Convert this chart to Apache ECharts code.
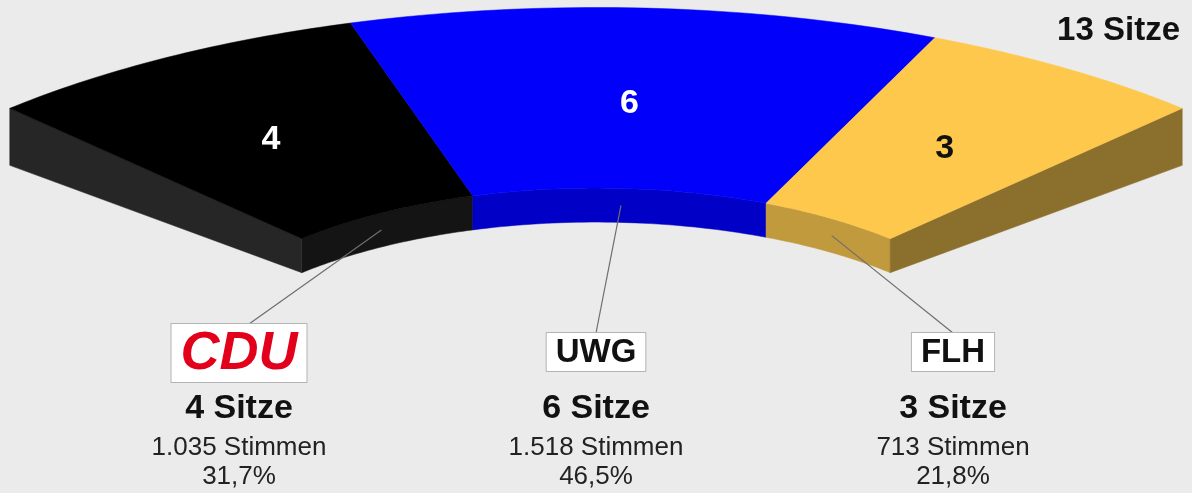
<!DOCTYPE html>
<html>
<head>
<meta charset="utf-8">
<script src="https://cdn.jsdelivr.net/npm/echarts@6/dist/echarts.min.js"></script>
<style>
html,body{margin:0;padding:0;background:#ebebeb;}
#main{width:1192px;height:493px;}
</style>
</head>
<body>
<div id="main"></div>
<script>
// data
var parties = ['CDU', 'UWG', 'FLH'];
var seats = [4, 6, 3];
var votes = ['1.035', '1.518', '713'];
var shares = ['31,7%', '46,5%', '21,8%'];
var totalLabel = '13 Sitze';

// styles
var topColors = ['#000000', '#0000fb', '#fdc84c'];
var wallColors = ['#141414', '#0000c6', '#c29a3e'];
var endColors = ['#262626', '#00009a', '#8b6f2c'];
var numColors = ['#ffffff', '#ffffff', '#111111'];
var nameColors = ['#e2001a', '#111111', '#111111'];
var nameSizes = [54, 33, 33];
var FONT = '"Liberation Sans", Arial, sans-serif';

// geometry of the tilted ring (pixels)
var cx = 596, cy = 370, Ro = 847, Ri = 425, k = 0.428;
var a0 = 133.8, span = 87.6, tIn = 34, tOut = 57;
var colGap = 357, boxTop = 333;

var total = 0;
seats.forEach(function (s) { total += s; });

var data = [];
var acc = 0;
for (var i = 0; i < seats.length; i++) {
    data.push([acc, acc + seats[i], seats[i]]);
    acc += seats[i];
}

function renderItem(params, api) {
    var i = params.dataIndex;
    var s0 = api.value(0), s1 = api.value(1);
    function ang(s) { return (a0 - span * s / total) * Math.PI / 180; }
    function P(r, th, h) {
        return api.coord([cx + r * Math.cos(th), cy - k * r * Math.sin(th) + (h || 0)]);
    }
    var N = 40, j, th;
    var topPts = [], wallPts = [];
    for (j = 0; j <= N; j++) {
        th = ang(s0 + (s1 - s0) * j / N);
        topPts.push(P(Ro, th, 0));
        wallPts.push(P(Ri, th, 0));
    }
    for (j = N; j >= 0; j--) {
        th = ang(s0 + (s1 - s0) * j / N);
        topPts.push(P(Ri, th, 0));
        wallPts.push(P(Ri, th, tIn));
    }
    var children = [];
    children.push({ type: 'polygon', shape: { points: wallPts }, style: { fill: wallColors[i], stroke: wallColors[i], lineWidth: 0.5 }, z2: 1 });
    var endS = null;
    if (i === 0) endS = s0;
    if (i === seats.length - 1) endS = s1;
    if (endS !== null) {
        th = ang(endS);
        children.push({
            type: 'polygon',
            shape: { points: [P(Ro, th, 0), P(Ri, th, 0), P(Ri, th, tIn), P(Ro, th, tOut)] },
            style: { fill: endColors[i], stroke: endColors[i], lineWidth: 0.5 },
            z2: 1
        });
    }
    children.push({ type: 'polygon', shape: { points: topPts }, style: { fill: topColors[i], stroke: topColors[i], lineWidth: 0.5 }, z2: 2 });

    var mid = ang((s0 + s1) / 2);
    var c = P((Ro + Ri) / 2, mid, 5);
    children.push({
        type: 'text', x: c[0] - 4, y: c[1], z2: 3,
        style: { text: String(api.value(2)), fill: numColors[i], font: 'bold 34px ' + FONT, align: 'center', verticalAlign: 'middle' }
    });

    var colX = cx + (i - (seats.length - 1) / 2) * colGap;
    var top = i === 0 ? boxTop - 9 : boxTop;
    var from = P(Ri, mid, tIn / 2);
    var to = api.coord([colX + (i === 0 ? 10 : 0), top]);
    children.push({ type: 'line', shape: { x1: from[0], y1: from[1], x2: to[0], y2: to[1] }, style: { stroke: '#6e6e6e', lineWidth: 1.2 }, z2: 4 });

    var b = api.coord([colX, top]);
    children.push({
        type: 'text', x: b[0], y: b[1], z2: 5,
        style: {
            text: parties[i], fill: nameColors[i],
            font: (i === 0 ? 'italic bold ' : 'bold ') + nameSizes[i] + 'px ' + FONT,
            align: 'center', verticalAlign: 'top',
            backgroundColor: '#ffffff', borderColor: '#b4b4b4', borderWidth: 1,
            padding: i === 0 ? [3, 9, 1, 9] : [3, 9, 2, 9]
        }
    });
    var t1 = api.coord([colX, 409]);
    children.push({ type: 'text', x: t1[0], y: t1[1], z2: 5, style: { text: api.value(2) + ' Sitze', fill: '#111', font: 'bold 34px ' + FONT, align: 'center', verticalAlign: 'middle' } });
    var t2 = api.coord([colX, 448]);
    children.push({ type: 'text', x: t2[0], y: t2[1], z2: 5, style: { text: votes[i] + ' Stimmen', fill: '#222', font: '26px ' + FONT, align: 'center', verticalAlign: 'middle' } });
    var t3 = api.coord([colX, 477]);
    children.push({ type: 'text', x: t3[0], y: t3[1], z2: 5, style: { text: shares[i], fill: '#222', font: '26px ' + FONT, align: 'center', verticalAlign: 'middle' } });

    return { type: 'group', children: children };
}

var myChart = echarts.init(document.getElementById('main'));
var option = {
    backgroundColor: '#ebebeb',
    animation: false,
    title: {
        text: totalLabel,
        right: 12, top: 14, padding: 0,
        textStyle: { fontFamily: FONT, fontWeight: 'bold', fontSize: 33, color: '#111' }
    },
    grid: { left: 0, right: 0, top: 0, bottom: 0 },
    xAxis: { type: 'value', min: 0, max: 1192, show: false },
    yAxis: { type: 'value', min: 0, max: 493, inverse: true, show: false },
    series: [{
        type: 'custom',
        renderItem: renderItem,
        data: data
    }]
};
myChart.setOption(option);
</script>
</body>
</html>
